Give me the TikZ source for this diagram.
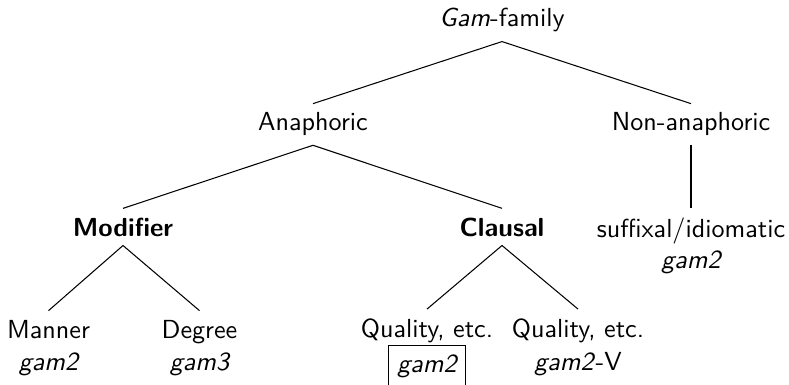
\documentclass[tikz,border=0pt]{standalone}
\begin{document}
\begin{tikzpicture}[x=0.383pt,y=-0.383pt,
  lbl/.style={font=\sffamily, anchor=base},
  sub/.style={font=\sffamily\itshape, anchor=base},
  edge/.style={line width=0.4pt}]
\useasboundingbox (0,0) rectangle (789,385);
\node[lbl] (gam) at (502,27) {\textit{Gam}-family};
\node[lbl] (ana) at (313,131) {Anaphoric};
\node[lbl] (non) at (691,131) {Non-anaphoric};
\node[lbl,font=\sffamily\bfseries] (mod) at (123,236) {Modifier};
\node[lbl,font=\sffamily\bfseries] (cla) at (502,236) {Clausal};
\node[lbl] (suf) at (691,237) {suffixal/idiomatic};
\node[sub] (sufg) at (691,268) {gam2};
\node[lbl] (man) at (48.5,338) {Manner};
\node[sub] (mang) at (48.5,370) {gam2};
\node[lbl] (deg) at (199.5,338) {Degree};
\node[sub] (degg) at (199.5,370) {gam3};
\node[lbl] (q1) at (427,337) {Quality, etc.};
\node[sub,draw,line width=0.4pt] (q1g) at (427,372) {gam2};
\node[lbl] (q2) at (578,337) {Quality, etc.};
\node[lbl] (q2g) at (578,370) {\textit{gam2}-V};
\draw[edge] (gam.south) -- (ana.north);
\draw[edge] (gam.south) -- (non.north);
\draw[edge] (ana.south) -- (mod.north);
\draw[edge] (ana.south) -- (cla.north);
\draw[edge] (non.south) -- (suf.north);
\draw[edge] (mod.south) -- (man.north);
\draw[edge] (mod.south) -- (deg.north);
\draw[edge] (cla.south) -- (q1.north);
\draw[edge] (cla.south) -- (q2.north);
\end{tikzpicture}
\end{document}
